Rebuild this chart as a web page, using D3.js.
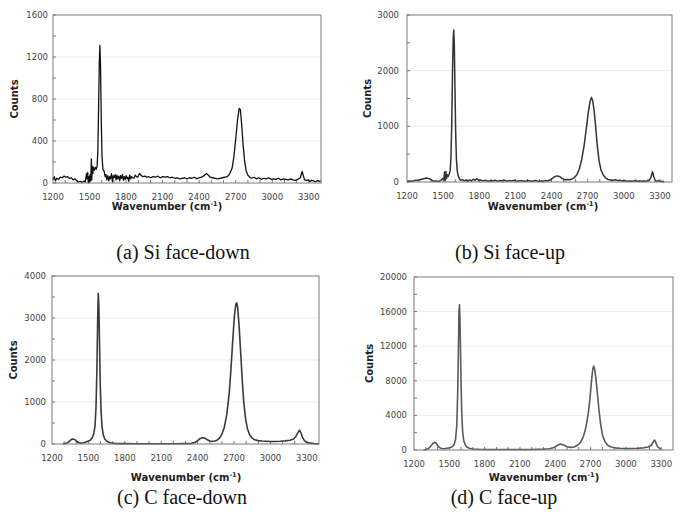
<!DOCTYPE html>
<html>
<head>
<meta charset="utf-8">
<script src="https://cdn.jsdelivr.net/npm/d3@7"></script>
<style>
  body { margin: 0; background: #fff; }
  .tick-label { font-family: 'DejaVu Sans', Verdana, sans-serif; font-size: 8.5px; fill: #444; }
  .axis-title { font-family: 'DejaVu Sans', Verdana, sans-serif; font-size: 10px; font-weight: bold; fill: #222; }
  .caption { font-family: 'Liberation Serif', 'Times New Roman', serif; font-size: 20px; fill: #111; }
</style>
</head>
<body>
<script>
// ---- data ----
var wnTicks = [1200, 1500, 1800, 2100, 2400, 2700, 3000, 3300];

var siDownTicks = [0, 400, 800, 1200, 1600];
var siUpTicks = [0, 1000, 2000, 3000];
var cDownTicks = [0, 1000, 2000, 3000, 4000];
var cUpTicks = [0, 4000, 8000, 12000, 16000, 20000];

// (a) Si face-down
var siDownWn = [1200,1210,1220,1230,1245,1260,1275,1290,1305,1320,1335,1350,1365,1380,1395,1410,1425,1440,1455,1465,
  1475,1480,1485,1490,1495,1500,1505,1510,1515,1518,1522,1527,1532,1540,1548,1555,1562,1568,1574,1580,
  1585,1590,1596,1602,1610,1620,1628,1635,1642,1650,1658,1665,1672,1680,1688,1695,1702,1710,1718,1725,
  1732,1740,1748,1755,1762,1770,1778,1785,1792,1800,1808,1815,1822,1830,1838,1845,1855,1865,1875,1885,
  1895,1910,1925,1940,1955,1970,1985,2000,2020,2040,2060,2080,2100,2120,2140,2160,2180,2200,2220,2240,
  2260,2280,2300,2320,2340,2360,2380,2400,2420,2440,2460,2475,2490,2510,2530,2550,2570,2590,2610,2630,
  2650,2670,2685,2700,2715,2728,2738,2750,2760,2772,2785,2800,2815,2830,2850,2870,2890,2910,2930,2950,
  2970,2990,3010,3030,3050,3070,3090,3110,3130,3150,3170,3190,3210,3230,3245,3255,3265,3280,3295,3310,
  3325,3340,3355,3370,3385,3400];
var siDownCounts = [30,60,20,45,35,55,50,65,55,60,45,50,30,40,20,10,15,5,20,10,
  90,40,100,0,60,10,80,20,230,30,160,90,150,120,150,130,160,300,700,1150,
  1310,1120,620,260,130,110,60,80,30,70,20,60,40,90,10,70,50,80,30,75,
  40,65,20,70,45,80,25,60,35,70,40,55,15,75,40,60,50,45,75,60,
  55,90,70,60,65,55,60,50,60,55,65,50,60,55,60,50,55,45,50,40,
  45,50,40,50,45,55,40,50,55,70,90,75,55,50,45,40,45,50,55,60,
  85,140,250,420,600,710,700,540,370,220,120,75,55,45,55,40,50,35,45,40,
  50,35,40,35,45,30,40,35,30,40,30,25,35,50,110,70,30,25,30,15,
  25,20,10,25,15,20];

// (b) Si face-up
var siUpWn = [1200,1220,1240,1260,1280,1300,1320,1340,1360,1375,1390,1405,1420,1440,1460,1480,1495,1505,1512,1516,
  1522,1528,1535,1542,1550,1558,1565,1572,1578,1584,1588,1593,1598,1604,1610,1617,1625,1635,1645,1660,
  1675,1690,1705,1720,1735,1750,1765,1780,1795,1810,1830,1850,1870,1890,1910,1930,1950,1970,1990,2010,
  2030,2050,2070,2090,2110,2130,2150,2170,2190,2210,2230,2250,2270,2290,2310,2330,2350,2370,2390,2410,
  2430,2450,2470,2490,2510,2530,2550,2570,2590,2610,2630,2650,2670,2690,2705,2720,2732,2742,2755,2768,
  2780,2795,2810,2830,2850,2870,2890,2910,2930,2950,2970,2990,3010,3030,3050,3070,3090,3110,3130,3150,
  3170,3190,3210,3225,3238,3250,3262,3275,3290,3305,3320,3335];
var siUpCounts = [15,20,15,25,30,35,50,60,70,65,55,35,15,20,10,25,60,40,180,20,
  190,60,130,100,140,200,450,1100,2000,2600,2730,2450,1700,900,420,200,110,60,30,45,
  20,35,15,40,20,50,30,60,25,35,20,30,15,25,20,30,15,25,20,30,
  15,25,20,30,15,20,25,15,20,25,15,20,25,15,20,15,25,20,40,70,
  100,110,95,60,40,45,40,55,80,130,230,400,650,980,1250,1450,1520,1460,1250,950,
  650,380,220,120,70,45,35,30,40,25,30,20,25,15,20,15,25,15,20,15,
  20,15,30,80,185,90,20,15,25,10,15,5];

// (c) C face-down
var cDownWn = [1290,1310,1330,1345,1360,1375,1390,1405,1420,1440,1460,1480,1500,1515,1530,1545,1555,1563,1570,1576,
  1581,1586,1591,1597,1604,1612,1622,1635,1650,1670,1690,1720,1760,1800,1900,2000,2100,2200,2300,2350,
  2380,2400,2420,2440,2460,2480,2500,2520,2540,2560,2580,2600,2620,2640,2660,2675,2690,2703,2715,2722,
  2730,2742,2755,2768,2780,2795,2810,2830,2850,2870,2900,2930,2960,3000,3040,3080,3120,3160,3190,3210,
  3228,3240,3252,3265,3280,3300,3330,3360,3400];
var cDownCounts = [0,10,30,70,110,120,100,60,30,20,30,50,70,90,140,250,450,900,1800,2900,
  3580,3300,2500,1500,800,420,220,120,70,40,25,15,10,10,5,5,5,5,10,15,
  40,80,130,150,140,100,70,60,70,90,140,230,400,700,1200,1800,2500,3050,3330,3360,
  3250,2800,2150,1500,1000,600,370,210,140,100,80,70,65,60,60,65,75,90,120,180,
  280,330,260,150,80,40,20,10,5];

// (d) C face-up
var cUpWn = [1280,1300,1320,1340,1360,1375,1390,1405,1420,1440,1460,1480,1500,1520,1540,1553,1563,1571,1577,1582,
  1586,1590,1595,1600,1606,1613,1622,1635,1650,1670,1700,1750,1800,1900,2000,2100,2200,2300,2350,2390,
  2420,2445,2470,2500,2530,2560,2590,2615,2640,2660,2680,2695,2708,2718,2726,2735,2746,2758,2770,2785,
  2800,2820,2845,2875,2910,2950,3000,3050,3100,3150,3190,3215,3232,3244,3256,3270,3290,3300];
var cUpCounts = [0,50,150,400,750,900,750,450,250,150,150,200,250,350,600,1200,2800,6500,11500,16000,
  16800,15500,11500,7500,4200,2200,1100,600,350,200,120,80,60,50,50,50,60,100,150,300,
  550,680,580,380,300,350,550,900,1600,2600,4200,6000,8000,9300,9700,9300,8200,6500,4800,3000,
  1800,1000,550,350,250,200,180,180,200,250,350,550,950,1150,800,350,150,60];

var xDomain = [1200, 3400];

var svg = d3.select('body').append('svg')
  .attr('width', 685)
  .attr('height', 520);

var panels = [
  { wn: siDownWn, counts: siDownCounts, yTicks: siDownTicks, yMinor: 200, color: '#111', lw: 1.3,
    left: 53, right: 321, top: 15, bottom: 183, yGap: 5, yTitleX: 14, xTitleX: 167, xTitleY: 210,
    caption: '(a) Si face-down', capX: 183, capY: 259 },
  { wn: siUpWn, counts: siUpCounts, yTicks: siUpTicks, yMinor: 500, color: '#333', lw: 1.5,
    left: 407, right: 672, top: 15, bottom: 182, yGap: 8, yTitleX: 367, xTitleX: 543, xTitleY: 210,
    caption: '(b) Si face-up', capX: 510, capY: 259 },
  { wn: cDownWn, counts: cDownCounts, yTicks: cDownTicks, yMinor: 500, color: '#3a3a3a', lw: 1.6,
    left: 52, right: 319, top: 276, bottom: 444, yGap: 6, yTitleX: 13, xTitleX: 186, xTitleY: 481,
    caption: '(c) C face-down', capX: 182, capY: 504 },
  { wn: cUpWn, counts: cUpCounts, yTicks: cUpTicks, yMinor: 2000, color: '#5a5a5a', lw: 1.6,
    left: 414, right: 673, top: 277, bottom: 450, yGap: 7, yTitleX: 369, xTitleX: 544, xTitleY: 481,
    caption: '(d) C face-up', capX: 504, capY: 504 }
];

panels.forEach(function(p) {
  var yMax = p.yTicks[p.yTicks.length - 1];
  var x = d3.scaleLinear().domain(xDomain).range([p.left, p.right]);
  var y = d3.scaleLinear().domain([0, yMax]).range([p.bottom, p.top]);
  var g = svg.append('g');

  // light gridlines
  g.selectAll('.grid')
    .data(p.yTicks.slice(1, -1))
    .enter().append('line')
    .attr('x1', p.left).attr('x2', p.right)
    .attr('y1', function(d) { return y(d); })
    .attr('y2', function(d) { return y(d); })
    .attr('stroke', '#ececec');

  // minor ticks on y axis (inside)
  g.selectAll('.ytick')
    .data(d3.range(0, yMax + 1, p.yMinor))
    .enter().append('line')
    .attr('x1', p.left).attr('x2', p.left + 3)
    .attr('y1', function(d) { return y(d); })
    .attr('y2', function(d) { return y(d); })
    .attr('stroke', '#777');

  // ticks on x axis every 100 (inside)
  g.selectAll('.xtick')
    .data(d3.range(xDomain[0] + 100, xDomain[1], 100))
    .enter().append('line')
    .attr('x1', function(d) { return x(d); })
    .attr('x2', function(d) { return x(d); })
    .attr('y1', p.bottom).attr('y2', p.bottom - 3)
    .attr('stroke', '#777');

  var line = d3.line()
    .x(function(d, i) { return x(p.wn[i]); })
    .y(function(d) { return y(d); });

  g.append('path')
    .datum(p.counts)
    .attr('d', line)
    .attr('fill', 'none')
    .attr('stroke', p.color)
    .attr('stroke-width', p.lw)
    .attr('stroke-linejoin', 'round');

  // frame
  g.append('rect')
    .attr('x', p.left).attr('y', p.top)
    .attr('width', p.right - p.left).attr('height', p.bottom - p.top)
    .attr('fill', 'none')
    .attr('stroke', '#7a7a7a');

  g.selectAll('.xlab')
    .data(wnTicks)
    .enter().append('text')
    .attr('class', 'tick-label')
    .attr('x', function(d) { return x(d); })
    .attr('y', p.bottom + 17)
    .attr('text-anchor', 'middle')
    .text(function(d) { return d; });

  g.selectAll('.ylab')
    .data(p.yTicks)
    .enter().append('text')
    .attr('class', 'tick-label')
    .attr('x', p.left - p.yGap)
    .attr('y', function(d) { return y(d) + 3; })
    .attr('text-anchor', 'end')
    .text(function(d) { return d; });

  var cy = (p.top + p.bottom) / 2;
  g.append('text')
    .attr('class', 'axis-title')
    .attr('transform', 'translate(' + (p.yTitleX + 4) + ',' + cy + ') rotate(-90)')
    .attr('text-anchor', 'middle')
    .text('Counts');

  var xt = g.append('text')
    .attr('class', 'axis-title')
    .attr('x', p.xTitleX)
    .attr('y', p.xTitleY)
    .attr('text-anchor', 'middle');
  xt.append('tspan').text('Wavenumber (cm');
  xt.append('tspan').attr('dy', -4).style('font-size', '6.5px').text('-1');
  xt.append('tspan').attr('dy', 4).text(')');

  svg.append('text')
    .attr('class', 'caption')
    .attr('x', p.capX)
    .attr('y', p.capY)
    .attr('text-anchor', 'middle')
    .text(p.caption);
});
</script>
</body>
</html>
